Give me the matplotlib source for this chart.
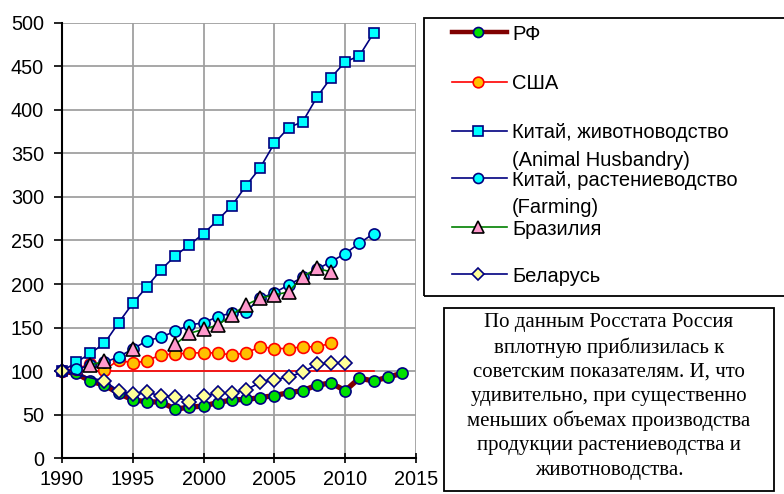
import matplotlib
matplotlib.use("Agg")
import matplotlib.pyplot as plt
import numpy as np
from matplotlib.lines import Line2D
from matplotlib.patches import Rectangle

plt.rcParams['font.family'] = ['Liberation Sans', 'DejaVu Sans']

# --- data (1990 = 100) ---
years_rf = list(range(1990, 2015))
rf = [100, 97.5, 88.5, 84, 74.6, 67, 65, 64.5, 56.4, 58.7, 60, 64, 67, 67.5, 69.7,
      72, 75.3, 77.6, 84, 86.5, 77.6, 92, 88.7, 93, 97.6]

years_usa = list(range(1990, 2010))
usa = [100, 103, 108, 101, 113, 109, 112, 119, 119.4, 121, 121, 121, 118.5, 121,
       128, 126, 126, 128, 128, 132]

years_china = list(range(1990, 2013))
china_animal = [100, 110, 120.5, 132, 155.6, 178, 197, 216.5, 232.5, 245, 258, 273.5,
                290, 313, 333.6, 361.6, 379.5, 386.4, 414.4, 437, 455, 462, 488]
china_farm = [100, 102, 107, 110, 116.5, 125.5, 135, 139, 146, 153, 155.6, 162.5,
              167, 168.5, 183.6, 190, 199, 208, 217, 225.7, 235, 246.8, 258]

years_brazil = list(range(1992, 2010))
brazil = [107, 111.5, np.nan, 125.5, np.nan, np.nan, 131, 143.5, 148, 153, 164.5,
          176, 184, 187.5, 191, 208.5, 218, 214]

years_belarus = [1990] + list(range(1993, 2011))
belarus = [100, 88.7, 77.3, 73.8, 76, 71.5, 70.7, 65, 71.5, 74.6, 75.3, 78.4, 87.2,
           89.9, 93.7, 98.7, 108, 109, 109.7]

years_base = [1990, 2012]
base = [100, 100]

labels = ["РФ", "США", "Китай, животноводство", "Китай, растениеводство",
          "Бразилия", "Беларусь"]
label_extra = {2: "(Animal Husbandry)", 3: "(Farming)"}

note_lines = ["По данным Росстата Россия",
              "вплотную приблизилась к",
              "советским показателям. И, что",
              "удивительно, при существенно",
              "меньших объемах производства",
              "продукции растениеводства и",
              "животноводства."]

# --- styles ---
styles = [
    dict(color="#800000", lw=3.8, marker="o", ms=8, mfc="#00e000", mec="#000080", mew=1.2),
    dict(color="#ff0000", lw=1.2, marker="o", ms=8.5, mfc="#ffc000", mec="#ff0000", mew=1.2),
    dict(color="#000080", lw=1.2, marker="s", ms=7.5, mfc="#00ffff", mec="#000080", mew=1.2),
    dict(color="#000080", lw=1.2, marker="o", ms=8, mfc="#00ffff", mec="#000080", mew=1.2),
    dict(color="#008000", lw=1.2, marker="^", ms=9.5, mfc="#ff99cc", mec="#000000", mew=1.2),
    dict(color="#000080", lw=1.2, marker="D", ms=7, mfc="#ffff99", mec="#000080", mew=1.2),
]

W, H = 784, 494
fig = plt.figure(figsize=(W / 100, H / 100), dpi=100)
ax = fig.add_axes([62 / W, 1 - 458.3 / H, (416 - 62) / W, (458.3 - 22.7) / H])

ax.plot(years_base, base, color="#ff0000", lw=1.2, zorder=2, clip_on=False)
series = [(years_rf, rf), (years_usa, usa), (years_china, china_animal),
          (years_china, china_farm), (years_brazil, brazil), (years_belarus, belarus)]
for i, ((xs, ys), st) in enumerate(zip(series, styles)):
    ax.plot(xs, ys, zorder=3 + i, clip_on=False, **st)

ax.set_xlim(1990, 2015)
ax.set_ylim(0, 500)
ax.set_xticks(range(1990, 2016, 5))
ax.set_yticks(range(0, 501, 50))
ax.grid(True, color="#a0a0a0", lw=1.3, zorder=0)
ax.set_axisbelow(True)
for s in ["top", "right"]:
    ax.spines[s].set_visible(False)
for s in ["left", "bottom"]:
    ax.spines[s].set_linewidth(1.5)
    ax.spines[s].set_zorder(10)
ax.tick_params(axis="y", direction="out", length=6, width=1.2, labelsize=14.3, pad=7)
ax.tick_params(axis="x", direction="inout", length=7, width=1.2, labelsize=14.3, pad=5)

# --- legend box (drawn by hand so the spacing matches the original) ---
def fx(px):
    return px / W

def fy(py):
    return 1 - py / H

fig.patches.append(Rectangle((fx(424), fy(296)), fx(800 - 424), (296 - 18) / H,
                             transform=fig.transFigure, fill=False, ec="black", lw=1.3))
entry_y = [32.3, 81.7, 130.7, 178.3, 227.3, 274.3]
for i, (lab, st, y) in enumerate(zip(labels, styles, entry_y)):
    lw = 3.2 if i == 0 else st["lw"]
    fig.lines.append(Line2D([fx(452), fx(507)], [fy(y), fy(y)], transform=fig.transFigure,
                            color=st["color"], lw=lw))
    fig.lines.append(Line2D([fx(478)], [fy(y)], transform=fig.transFigure, ls="none",
                            marker=st["marker"], ms=st["ms"] * 0.9, mfc=st["mfc"],
                            mec=st["mec"], mew=st["mew"]))
    fig.text(fx(512), fy(y + 2), lab, fontsize=14.5, va="center", ha="left")
    if i in label_extra:
        fig.text(fx(512), fy(y + 29.5), label_extra[i], fontsize=14.5, va="center", ha="left")

# --- note box ---
fig.patches.append(Rectangle((fx(444), fy(490.5)), fx(774.3 - 444), (490.5 - 308.3) / H,
                             transform=fig.transFigure, fill=False, ec="black", lw=1.3))
for k, line in enumerate(note_lines):
    fig.text(fx(609), fy(322.7 + k * 24.55), line, family="Liberation Serif",
             fontsize=15, ha="center", va="center")

fig.savefig("out.png", dpi=100)
